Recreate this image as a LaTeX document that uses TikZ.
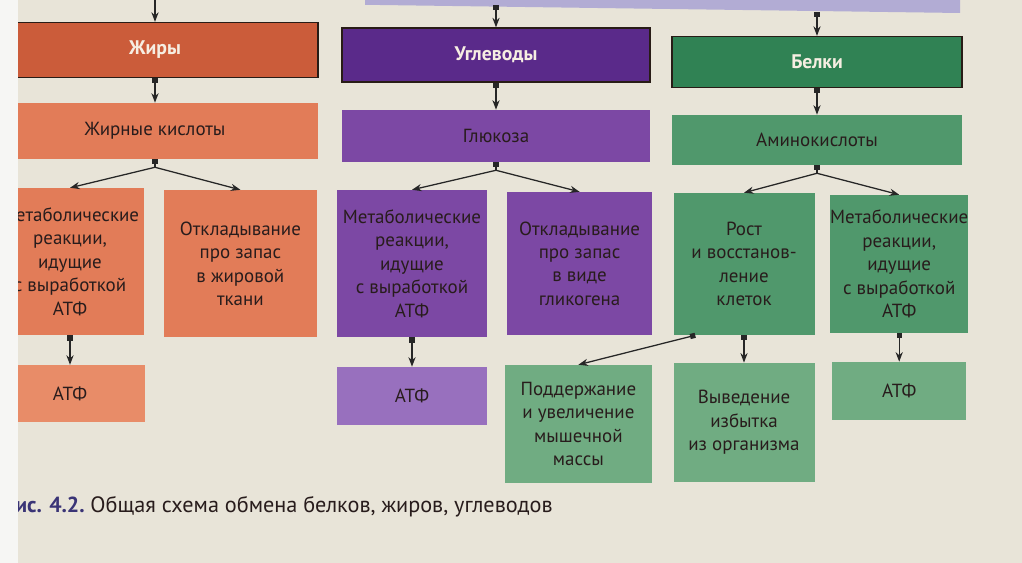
\documentclass[tikz,border=0pt]{standalone}
\usepackage{fontspec}
\setmainfont{PT Sans}
\usetikzlibrary{arrows.meta}
\usetikzlibrary{calc,positioning}

\definecolor{stranica}{RGB}{232,228,216}
\definecolor{polya}{RGB}{246,246,244}
\definecolor{zhirT}{RGB}{203,92,58}
\definecolor{zhirS}{RGB}{226,124,88}
\definecolor{zhirL}{RGB}{232,140,104}
\definecolor{uglT}{RGB}{90,42,138}
\definecolor{uglS}{RGB}{124,72,164}
\definecolor{uglL}{RGB}{152,112,190}
\definecolor{belT}{RGB}{48,130,84}
\definecolor{belS}{RGB}{80,152,108}
\definecolor{belL}{RGB}{112,172,130}
\definecolor{lavanda}{RGB}{178,172,212}
\definecolor{ramka}{RGB}{40,28,22}
\definecolor{tekst}{RGB}{40,28,28}
\definecolor{svetly}{RGB}{246,238,226}
\definecolor{nomer}{RGB}{58,52,118}

\begin{document}
\begin{tikzpicture}[x=1mm, y=-1mm, >={Stealth[length=2.4mm,width=1.8mm]},
    glav/.style={draw=ramka, line width=0.9pt, inner sep=0pt, text=svetly,
        font=\bfseries\fontsize{14}{16}\selectfont},
    blok/.style={align=center, inner sep=0pt, text=tekst,
        font=\fontsize{13.5}{16.7}\selectfont},
    liniya/.style={line width=0.9pt, draw=black!85},
    strel/.style={liniya, {Square[length=1.3mm,width=1.3mm]}->},
    koren/.style={liniya, {Square[length=1.3mm,width=1.3mm]}-}]

    \useasboundingbox (0,0) rectangle (255.5,140.75);
    \fill[polya] (0,0) rectangle (255.5,140.75);
    \fill[stranica] (4.5,0) rectangle (255.5,140.75);

    \begin{scope}
    \clip (4.5,0) rectangle (255.5,140.75);

    % lower edge of the box above
    \fill[lavanda] (91.25,-1) -- (240,-1) -- (240,3.25) -- (91.25,1.2) -- cycle;

    % fats
    \node[glav, fill=zhirT, minimum width=81.5mm, minimum height=13.75mm] (zhiry) at (38.75,12.5) {Жиры};
    \node[blok, fill=zhirS, minimum width=81.5mm, minimum height=14mm] (zhirkis) at (38.75,32.75) {Жирные кислоты};
    \node[blok, fill=zhirS, minimum width=37mm, minimum height=36.75mm] (zhirMet) at (17.5,65.4)
        {Метаболические\\реакции,\\идущие\\с выработкой\\АТФ};
    \node[blok, fill=zhirS, minimum width=38.25mm, minimum height=36.75mm] (zhirZapas) at (60.1,65.9)
        {Откладывание\\про запас\\в жировой\\ткани};
    \node[blok, fill=zhirL, minimum width=37.5mm, minimum height=14.25mm] (zhirATF) at (17.5,98.4) {АТФ};

    % carbohydrates
    \node[glav, fill=uglT, minimum width=77mm, minimum height=13.5mm] (uglevody) at (124,13.75) {Углеводы};
    \node[blok, fill=uglS, minimum width=77mm, minimum height=13mm] (glyukoza) at (124,34) {Глюкоза};
    \node[blok, fill=uglS, minimum width=37.5mm, minimum height=36.75mm] (uglMet) at (103,65.9)
        {Метаболические\\реакции,\\идущие\\с выработкой\\АТФ};
    \node[blok, fill=uglS, minimum width=36.25mm, minimum height=35.75mm] (uglZapas) at (144.9,65.9)
        {Откладывание\\про запас\\в виде\\гликогена};
    \node[blok, fill=uglL, minimum width=37.5mm, minimum height=14.5mm] (uglATF) at (103,99) {АТФ};

    % proteins
    \node[glav, fill=belT, minimum width=72.5mm, minimum height=12.75mm] (belki) at (204.25,15.5) {Белки};
    \node[blok, fill=belS, minimum width=72.5mm, minimum height=12.5mm] (amino) at (204.25,35) {Аминокислоты};
    \node[blok, fill=belS, minimum width=35.25mm, minimum height=35.5mm] (belRost) at (186,66)
        {Рост\\и восстанов-\\ление\\клеток};
    \node[blok, fill=belS, minimum width=33.25mm, minimum height=34.5mm] (belMet) at (224.8,66)
        {Метаболические\\реакции,\\идущие\\с выработкой\\АТФ};
    \node[blok, fill=belL, minimum width=36.75mm, minimum height=29.5mm] (belMyshcy) at (144.6,106)
        {Поддержание\\и увеличение\\мышечной\\массы};
    \node[blok, fill=belL, minimum width=35.25mm, minimum height=29.75mm] (belVyved) at (186,105.6)
        {Выведение\\избытка\\из организма};
    \node[blok, fill=belL, minimum width=33.5mm, minimum height=14.5mm] (belATF) at (224.8,97.75) {АТФ};

    \coordinate (verhZ) at (zhiry.north |- 0,-1);
    \coordinate (verhU) at (uglevody.north |- 0,1.3);
    \coordinate (verhB) at (belki.north |- 0,3);

    \draw[liniya, ->] (verhZ) -- (zhiry.north);
    \draw[strel] (verhU) -- (uglevody.north);
    \draw[strel] (verhB) -- (belki.north);

    \draw[strel] (zhiry.south) -- (zhirkis.north);
    \draw[strel] (uglevody.south) -- (glyukoza.north);
    \draw[strel] (belki.south) -- (amino.north);

    \draw[koren] (zhirkis.south) -- ++(0,2) coordinate (razvZ);
    \draw[liniya, ->] (razvZ) -- (zhirMet.north);
    \draw[liniya, ->] (razvZ) -- (zhirZapas.north);

    \draw[koren] (glyukoza.south) -- ++(0,2) coordinate (razvU);
    \draw[liniya, ->] (razvU) -- (uglMet.north);
    \draw[liniya, ->] (razvU) -- (uglZapas.north);

    \draw[koren] (amino.south) -- ++(0,2) coordinate (razvB);
    \draw[liniya, ->] (razvB) -- (belRost.north);
    \draw[liniya, ->] (razvB) -- (belMet.north);

    \draw[strel] (zhirMet.south) -- (zhirATF.north);
    \draw[strel] (uglMet.south) -- (uglATF.north);
    \draw[strel] ($(belRost.south west)+(5.5,0)$) -- (belMyshcy.north);
    \draw[strel] (belRost.south) -- (belVyved.north);
    \draw[strel] (belMet.south) -- (belATF.north);

    % caption
    \node[inner sep=0pt, text=nomer, font=\bfseries\fontsize{15.5}{18}\selectfont, anchor=base east]
        (risunok) at (21.25,128.2) {Рис. 4.2.};
    \node[inner sep=0pt, text=tekst, font=\fontsize{15.8}{18}\selectfont, anchor=base west]
        (podpis) at ($(risunok.base east)+(1.3,0)$) {Общая схема обмена белков, жиров, углеводов};
    \end{scope}

\end{tikzpicture}
\end{document}
